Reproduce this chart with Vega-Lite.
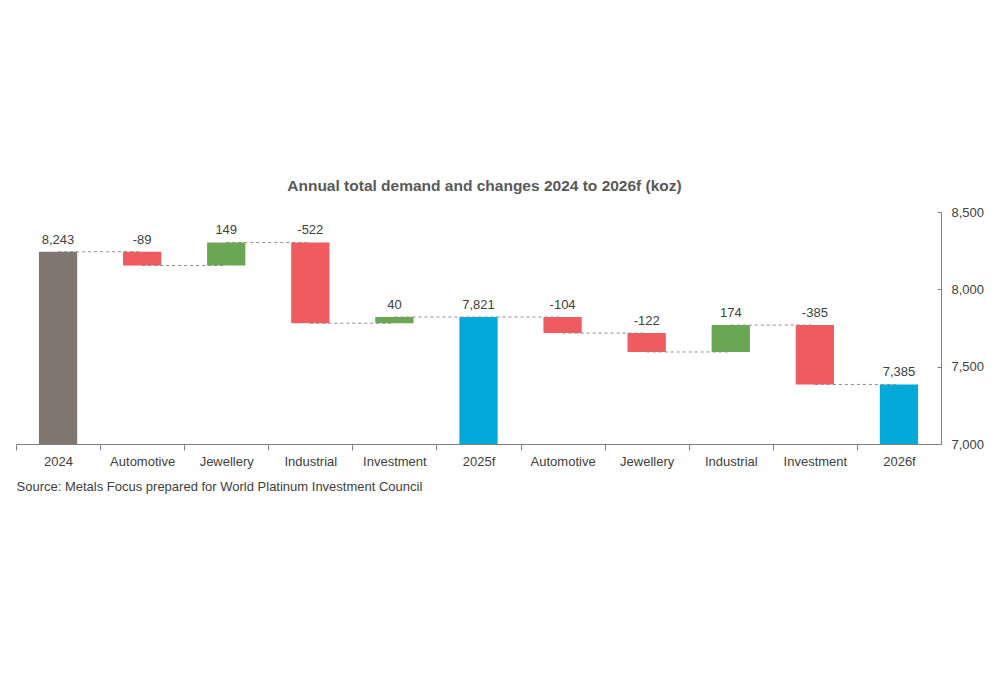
{
  "$schema": "https://vega.github.io/schema/vega-lite/v6.json",
  "autosize": {"type": "none"},
  "padding": {"left": 16, "top": 212, "right": 59, "bottom": 231},
  "width": 925,
  "height": 232,
  "background": "white",
  "config": {"view": {"stroke": null}, "font": "Liberation Sans"},
  "title": {
    "text": "Annual total demand and changes 2024 to 2026f (koz)",
    "anchor": "middle",
    "frame": "group",
    "offset": 12,
    "dx": 6,
    "fontSize": 15.5,
    "fontWeight": "bold",
    "color": "#595959",
    "font": "Liberation Sans"
  },
  "datasets": {
    "bars": [
      {"key": "2024|0", "start": 7000, "end": 8243, "top": 8243, "kind": "total1", "txt": "8,243"},
      {"key": "Automotive|1", "start": 8243, "end": 8154, "top": 8243, "kind": "down", "txt": "-89"},
      {"key": "Jewellery|2", "start": 8154, "end": 8303, "top": 8303, "kind": "up", "txt": "149"},
      {"key": "Industrial|3", "start": 8303, "end": 7781, "top": 8303, "kind": "down", "txt": "-522"},
      {"key": "Investment|4", "start": 7781, "end": 7821, "top": 7821, "kind": "up", "txt": "40"},
      {"key": "2025f|5", "start": 7000, "end": 7821, "top": 7821, "kind": "total", "txt": "7,821"},
      {"key": "Automotive|6", "start": 7821, "end": 7717, "top": 7821, "kind": "down", "txt": "-104"},
      {"key": "Jewellery|7", "start": 7717, "end": 7595, "top": 7717, "kind": "down", "txt": "-122"},
      {"key": "Industrial|8", "start": 7595, "end": 7769, "top": 7769, "kind": "up", "txt": "174"},
      {"key": "Investment|9", "start": 7769, "end": 7385, "top": 7769, "kind": "down", "txt": "-385"},
      {"key": "2026f|10", "start": 7000, "end": 7385, "top": 7385, "kind": "total", "txt": "7,385"}
    ],
    "links": [
      {"from": "2024|0", "to": "Automotive|1", "level": 8243},
      {"from": "Automotive|1", "to": "Jewellery|2", "level": 8154},
      {"from": "Jewellery|2", "to": "Industrial|3", "level": 8303},
      {"from": "Industrial|3", "to": "Investment|4", "level": 7781},
      {"from": "Investment|4", "to": "2025f|5", "level": 7821},
      {"from": "2025f|5", "to": "Automotive|6", "level": 7821},
      {"from": "Automotive|6", "to": "Jewellery|7", "level": 7717},
      {"from": "Jewellery|7", "to": "Industrial|8", "level": 7595},
      {"from": "Industrial|8", "to": "Investment|9", "level": 7769},
      {"from": "Investment|9", "to": "2026f|10", "level": 7385}
    ]
  },
  "encoding": {
    "x": {
      "field": "key",
      "type": "nominal",
      "sort": null,
      "scale": {
        "domain": ["2024|0", "Automotive|1", "Jewellery|2", "Industrial|3", "Investment|4", "2025f|5", "Automotive|6", "Jewellery|7", "Industrial|8", "Investment|9", "2026f|10"],
        "paddingInner": 0.545,
        "paddingOuter": 0.2725
      },
      "axis": {
        "title": "Source: Metals Focus prepared for World Platinum Investment Council",
        "titleAnchor": "start",
        "titleAlign": "left",
        "titleFontSize": 13,
        "titleFontWeight": "normal",
        "titleColor": "#404040",
        "titleFont": "Liberation Sans",
        "titlePadding": 12,
        "labelExpr": "split(datum.label, '|')[0]",
        "labelAngle": 0,
        "labelFontSize": 13,
        "labelColor": "#404040",
        "labelPadding": 5,
        "labelOffset": 22.9,
        "bandPosition": 0,
        "tickOffset": -22.9,
        "tickSize": 6,
        "tickColor": "#808080",
        "domainColor": "#808080",
        "grid": false
      }
    }
  },
  "layer": [
    {
      "data": {"name": "bars"},
      "mark": {"type": "bar"},
      "encoding": {
        "y": {
          "field": "start",
          "type": "quantitative",
          "scale": {"domain": [7000, 8500], "nice": false, "zero": false},
          "axis": {
            "orient": "right",
            "title": null,
            "values": [7000, 7500, 8000, 8500],
            "labelExpr": "format(datum.value, ',')",
            "labelFontSize": 13,
            "labelColor": "#404040",
            "tickSize": -4,
            "labelPadding": 14,
            "tickColor": "#808080",
            "domainColor": "#808080",
            "grid": false
          }
        },
        "y2": {"field": "end"},
        "color": {
          "field": "kind",
          "type": "nominal",
          "scale": {
            "domain": ["total1", "down", "up", "total"],
            "range": ["#7f766f", "#ee5b61", "#6aa753", "#00a9d8"]
          },
          "legend": null
        }
      }
    },
    {
      "data": {"name": "links"},
      "mark": {"type": "rule", "color": "#8c8c8c", "strokeDash": [3, 3], "strokeWidth": 1},
      "encoding": {
        "x": {"field": "from", "type": "nominal", "sort": null},
        "x2": {"field": "to"},
        "y": {"field": "level", "type": "quantitative"}
      }
    },
    {
      "data": {"name": "bars"},
      "mark": {"type": "text", "baseline": "bottom", "dy": -5, "fontSize": 13, "color": "#404040", "font": "Liberation Sans"},
      "encoding": {
        "y": {"field": "top", "type": "quantitative"},
        "text": {"field": "txt", "type": "nominal"}
      }
    }
  ]
}
